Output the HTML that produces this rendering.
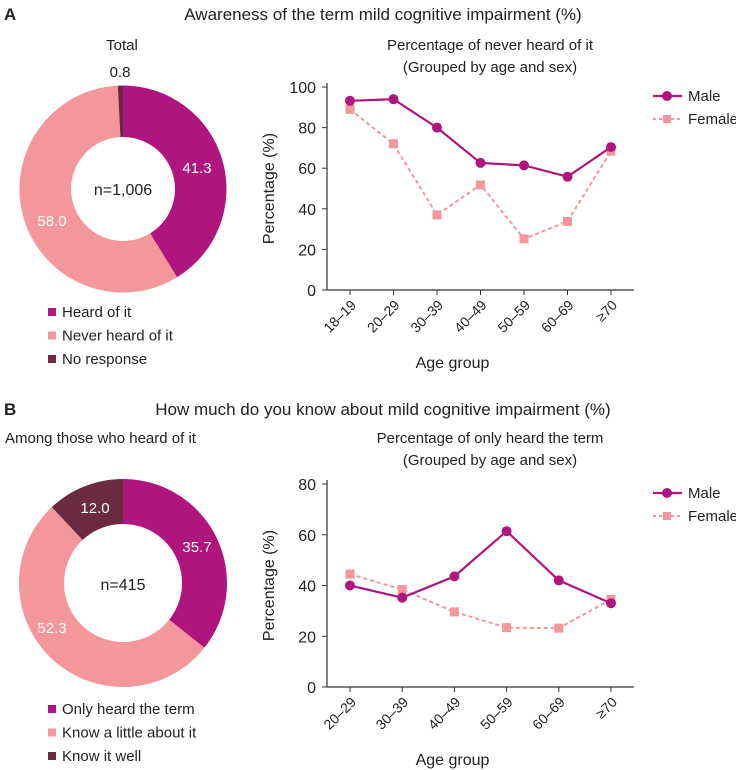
<!DOCTYPE html>
<html><head><meta charset="utf-8"><style>
body{margin:0;background:#fff;}
svg{display:block;font-family:"Liberation Sans",sans-serif;}
</style></head><body>
<svg id="s" width="736" height="770" viewBox="0 0 736 770">
<g font-size="16" fill="#222">
<text x="4" y="20" font-weight="bold" font-size="17">A</text>
<text x="383" y="20" text-anchor="middle" font-size="17">Awareness of the term mild cognitive impairment (%)</text>
<text x="122" y="50" text-anchor="middle" font-size="15">Total</text>
<text x="490" y="50" text-anchor="middle" font-size="15">Percentage of never heard of it</text>
<text x="490" y="72" text-anchor="middle" font-size="15">(Grouped by age and sex)</text>
<text x="4" y="415" font-weight="bold" font-size="17">B</text>
<text x="383" y="415" text-anchor="middle" font-size="17">How much do you know about mild cognitive impairment (%)</text>
<text x="5" y="443" font-size="15">Among those who heard of it</text>
<text x="490" y="443" text-anchor="middle" font-size="15">Percentage of only heard the term</text>
<text x="490" y="465" text-anchor="middle" font-size="15">(Grouped by age and sex)</text>
</g>
<g id="gA"></g><g id="gB"></g><g id="dA"></g><g id="dB"></g>
</svg>
<script>
const NS='http://www.w3.org/2000/svg';
const C1='#b0157e',C2='#f4979c',C3='#6b2a41';
const catsA=['18–19','20–29','30–39','40–49','50–59','60–69','≥70'];
const maleA=[93.2,94.0,80.0,62.6,61.4,55.8,70.4];
const femaleA=[89.0,72.0,37.0,51.8,25.2,33.8,68.4];
const ticksA=[0,20,40,60,80,100];
const catsB=['20–29','30–39','40–49','50–59','60–69','≥70'];
const maleB=[40.0,35.2,43.6,61.4,42.0,33.0];
const femaleB=[44.5,38.4,29.6,23.4,23.2,34.5];
const ticksB=[0,20,40,60,80];
const donutAVals=[41.3,58.0,0.8];
const donutALabels=['Heard of it','Never heard of it','No response'];
const donutBVals=[35.7,52.3,12.0];
const donutBLabels=['Only heard the term','Know a little about it','Know it well'];
function mk(p,t,a,txt){const e=document.createElementNS(NS,t);for(const k in a)e.setAttribute(k,a[k]);if(txt!==undefined)e.textContent=txt;p.appendChild(e);return e;}
function line(g,cats,male,female,ticks,ymax,y0,y1,first,last,legY){
 const x0=327,xEnd=634;
 const xs=i=>first+i*(last-first)/(cats.length-1);
 const ys=v=>y0-(v/ymax)*(y0-y1);
 let e=mk(g,'line',{x1:x0,y1:y1-4,x2:x0,y2:y0,stroke:'#333','stroke-width':1.2});
 
 e=mk(g,'line',{x1:x0,y1:y0,x2:xEnd,y2:y0,stroke:'#333','stroke-width':1.2});
 
 ticks.forEach(t=>{mk(g,'line',{x1:x0-5,x2:x0,y1:ys(t),y2:ys(t),stroke:'#333'});
  e=mk(g,'text',{x:x0-11,y:ys(t)+6,'text-anchor':'end','font-size':16,fill:'#222'},t);
  });
 cats.forEach((c,i)=>{mk(g,'line',{x1:xs(i),x2:xs(i),y1:y0,y2:y0+5,stroke:'#333'});
  e=mk(g,'text',{x:xs(i)+7,y:y0+16,'text-anchor':'end','font-size':14,fill:'#222',transform:`rotate(-45 ${xs(i)+7} ${y0+16})`},c);
  });
 e=mk(g,'text',{x:(x0+xEnd)/2-28,y:y0+78,'text-anchor':'middle','font-size':16,fill:'#222'},'Age group');
 
 const cy=(y0+y1)/2;
 e=mk(g,'text',{x:274,y:cy,'text-anchor':'middle','font-size':16,fill:'#222',transform:`rotate(-90 274 ${cy})`},'Percentage (%)');
 
 e=mk(g,'polyline',{points:female.map((v,i)=>xs(i)+','+ys(v)).join(' '),fill:'none',stroke:C2,'stroke-width':2,'stroke-dasharray':'4,3'});
 
 female.forEach((v,i)=>{e=mk(g,'rect',{x:xs(i)-4.5,y:ys(v)-4.5,width:9,height:9,fill:C2});
  });
 e=mk(g,'polyline',{points:male.map((v,i)=>xs(i)+','+ys(v)).join(' '),fill:'none',stroke:C1,'stroke-width':2.2});
 
 male.forEach((v,i)=>{e=mk(g,'circle',{cx:xs(i),cy:ys(v),r:5,fill:C1});
  });
 const lg=mk(g,'g',{});
 mk(lg,'line',{x1:653,x2:682,y1:legY,y2:legY,stroke:C1,'stroke-width':2.2});mk(lg,'circle',{cx:667,cy:legY,r:5,fill:C1});
 e=mk(lg,'text',{x:688,y:legY+5,'font-size':15,fill:'#222'},'Male');
 mk(lg,'line',{x1:653,x2:682,y1:legY+23,y2:legY+23,stroke:C2,'stroke-width':2,'stroke-dasharray':'3,3'});mk(lg,'rect',{x:663,y:legY+19,width:8,height:8,fill:C2});
 e=mk(lg,'text',{x:688,y:legY+28,'font-size':15,fill:'#222'},'Female');
}
line(document.getElementById('gA'),catsA,maleA,femaleA,ticksA,100,290,87,350,611,96);
line(document.getElementById('gB'),catsB,maleB,femaleB,ticksB,80,687,484,350,611,493);
function donut(g,vals,labels,cx,cy,R,r,n,nY,labPos,legY){
 const tot=vals.reduce((a,b)=>a+b,0),cols=[C1,C2,C3];let a=0;
 vals.forEach((v,i)=>{const a2=a+v/tot*2*Math.PI;
  const p=(ang,rr)=>[cx+rr*Math.sin(ang),cy-rr*Math.cos(ang)];
  const [x1,y1]=p(a,R),[x2,y2]=p(a2,R),[x3,y3]=p(a2,r),[x4,y4]=p(a,r);const lf=a2-a>Math.PI?1:0;
  let e=mk(g,'path',{d:`M${x1},${y1}A${R},${R} 0 ${lf} 1 ${x2},${y2}L${x3},${y3}A${r},${r} 0 ${lf} 0 ${x4},${y4}Z`,fill:cols[i]});
  
  a=a2;});
 vals.forEach((v,i)=>{const lp=labPos[i];
  let e=mk(g,'text',{x:lp[0],y:lp[1],'text-anchor':'middle','font-size':15,fill:lp[2]},v.toFixed(1));
  
  e=mk(g,'rect',{x:48,y:legY+i*23.5-4,width:8,height:8,fill:cols[i]});
  
  e=mk(g,'text',{x:62,y:legY+i*23.5+5,'font-size':15,fill:'#222'},labels[i]);
  });
 let e=mk(g,'text',{x:cx,y:nY,'text-anchor':'middle','font-size':16,fill:'#222'},n);
 
}
donut(document.getElementById('dA'),donutAVals,donutALabels,123,189,103.5,52,'n=1,006',195,[[197,173,'#fff'],[52,226,'#fff'],[120,77,'#222']],312);
donut(document.getElementById('dB'),donutBVals,donutBLabels,123,583,104,59,'n=415',590,[[197,552,'#fff'],[52,633,'#fff'],[95,513,'#fff']],709);
</script>
</body></html>
